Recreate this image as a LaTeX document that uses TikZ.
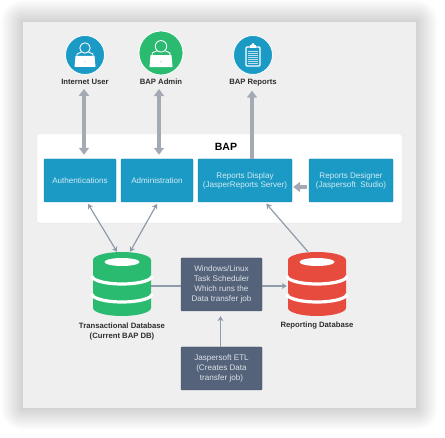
\documentclass[tikz,border=0pt]{standalone}
\usepackage{fontspec}
\setmainfont{Liberation Sans}
\usetikzlibrary{arrows.meta}
\definecolor{PanelGray}{HTML}{EFEFEF}
\definecolor{BoxBlue}{HTML}{1A9AC4}
\definecolor{BoxBlueEdge}{HTML}{1789AE}
\definecolor{BoxText}{HTML}{D3ECF5}
\definecolor{DbGreen}{HTML}{2BBB70}
\definecolor{DbRed}{HTML}{E74B3E}
\definecolor{Slate}{HTML}{54637A}
\definecolor{SlateEdge}{HTML}{465368}
\definecolor{SlateText}{HTML}{DDE1E7}
\definecolor{BigArrow}{HTML}{A4AAB4}
\definecolor{ThinArrow}{HTML}{8F9AAA}
\definecolor{LabelInk}{HTML}{2E2E2E}
\tikzset{
  bluebox/.style={draw=BoxBlueEdge, fill=BoxBlue, rounded corners=1pt, text=BoxText, align=center, font=\fontsize{8.1}{9}\selectfont, minimum height=43pt, inner sep=0pt},
  slatebox/.style={draw=SlateEdge, fill=Slate, rounded corners=1pt, text=SlateText, align=center, font=\fontsize{8.1}{9.8}\selectfont, minimum width=81pt, inner sep=0pt},
  caption/.style={text=LabelInk, align=center, font=\fontsize{7.7}{10}\selectfont\bfseries, inner sep=1pt},
  badge/.style={circle, draw=white, line width=0.8pt, inner sep=0pt},
  bigarrow/.style={draw=BigArrow, line width=3.4pt, -{Triangle[length=7pt,width=10pt]}},
  bigtwoway/.style={bigarrow, {Triangle[length=7pt,width=10pt]}-{Triangle[length=7pt,width=10pt]}},
  thinarrow/.style={draw=ThinArrow, line width=1.2pt, -{Stealth[length=5pt,width=6pt]}},
  thintwoway/.style={thinarrow, {Stealth[length=5pt,width=6pt]}-{Stealth[length=5pt,width=6pt]}},
  usericon/.pic={
    \draw[white, line width=0.9pt] (0,-7) circle (5.2);
    \draw[white, line width=0.9pt] (-8,1) -- (-8,-1) .. controls (-6,-2.5) .. (-3.5,-3);
    \draw[white, line width=0.9pt] (8,1) -- (8,-1) .. controls (6,-2.5) .. (3.5,-3);
    \fill[white] (-9.5,1) -- (9.5,1) -- (10.5,12) -- (-10.5,12) -- cycle;
    \fill[BigArrow] (0,7) circle (0.6);
  },
  clipicon/.pic={
    \draw[white, line width=1.1pt, rounded corners=1pt] (-7,-8) rectangle (7,11);
    \fill[white] (-3,-10) rectangle (3,-6.5);
    \fill[white] (0,-10.5) circle (1.6);
    \foreach \rowy in {-4,-2,...,9} {
      \fill[white!70!BoxBlue] (-5,\rowy) rectangle (5,\rowy+1.1);
    }
  },
  dbstack/.pic={
    \fill[pic actions] (-29,-24) arc[start angle=180, end angle=360, x radius=29, y radius=8]
      -- (29,24) arc[start angle=0, end angle=180, x radius=29, y radius=8] -- cycle;
    \fill[white] (0,-22) ellipse (17.5 and 4);
    \draw[white, line width=3.2pt] (-30,-8) arc[start angle=180, end angle=0, x radius=30, y radius=8];
    \draw[white, line width=3.2pt] (-30,10) arc[start angle=180, end angle=0, x radius=30, y radius=8];
  }
}
\begin{document}
\begin{tikzpicture}[x=1pt, y=-1pt]
    \useasboundingbox (0,0) rectangle (445,438);
    % Soft shadow
    \foreach \spread in {22,21,...,0} {
        \fill[black, opacity=0.006, rounded corners=\spread pt] (23-\spread,22-\spread) rectangle (416+\spread,408+\spread);
    }
    \fill[PanelGray] (23,22) rectangle (416,408);
    \node[draw=black!10, fill=white, rounded corners=1.5pt, minimum width=365pt, minimum height=89pt, inner sep=0pt] (bapPanel) at (219.5,178.5) {};
    \node[font=\fontsize{10.5}{12}\selectfont\bfseries, inner sep=0pt] (bapTitle) at (226,147) {BAP};

    % Badges
    \node[badge, fill=BoxBlue, minimum size=39pt] (userBadge) at (85,55) {};
    \node[badge, fill=DbGreen, minimum size=44pt] (adminBadge) at (161,53) {};
    \node[badge, fill=BoxBlue, minimum size=39pt] (reportBadge) at (253,55) {};
    \pic at (85,55) {usericon};
    \pic[scale=1.1] at (161,54) {usericon};
    \pic at (253,55) {clipicon};
    \node[caption] (userLabel) at (85,82) {Internet User};
    \node[caption] (adminLabel) at (161,82) {BAP Admin};
    \node[caption] (reportLabel) at (253,83) {BAP Reports};

    % Boxes
    \node[bluebox, minimum width=72pt] (auth) at (80,180.5) {Authentications};
    \node[bluebox, minimum width=72pt] (admin) at (157,180.5) {Administration};
    \node[bluebox, minimum width=94pt] (display) at (245,180.5) {Reports Display\\(JasperReports Server)};
    \node[bluebox, minimum width=84pt] (designer) at (351,180.5) {Reports Designer\\(Jaspersoft~~Studio)};
    \node[slatebox, minimum height=53pt] (scheduler) at (221.5,284.5) {Windows/Linux\\Task Scheduler\\Which runs the\\Data transfer job};
    \node[slatebox, minimum height=43pt] (etl) at (221.5,368.5) {Jaspersoft ETL\\(Creates Data\\transfer job)};

    % Databases
    \pic[fill=DbGreen] at (122,284) {dbstack};
    \pic[fill=DbRed] at (317,284) {dbstack};
    \node[minimum width=58pt, minimum height=64pt, inner sep=0pt] (transDb) at (122,284) {};
    \node[minimum width=60pt, minimum height=64pt, inner sep=0pt] (reportDb) at (317,284) {};
    \node[caption] (transLabel) at (122,332) {Transactional Database\\(Current BAP DB)};
    \node[caption] (reportDbLabel) at (317,326) {Reporting Database};

    % Connectors
    \draw[bigtwoway, shorten <=3pt, shorten >=4pt] ([xshift=-1pt]userLabel.south) -- ([xshift=4pt]auth.north);
    \draw[bigtwoway, shorten <=3pt, shorten >=4pt] ([xshift=-2pt]adminLabel.south) -- ([xshift=2pt]admin.north);
    \draw[bigarrow, shorten >=3pt] ([xshift=7pt]display.north) -- ([xshift=-1pt]reportLabel.south);
    \draw[bigarrow, shorten <=2pt, shorten >=1pt] ([yshift=-6.5pt]designer.west) -- ([yshift=-6.5pt]display.east);
    \draw[thintwoway, shorten <=2pt] ([xshift=7pt]auth.south) -- ([xshift=-5pt]transDb.north);
    \draw[thintwoway, shorten <=2pt] ([xshift=1pt]admin.south) -- ([xshift=8pt]transDb.north);
    \draw[thinarrow, shorten >=2pt] ([xshift=-9pt]reportDb.north) -- ([xshift=20pt]display.south);
    \draw[draw=ThinArrow, line width=1.2pt] ([yshift=-2pt]transDb.east) -- ([yshift=-1.5pt]scheduler.west);
    \draw[thinarrow] ([yshift=-1.5pt]scheduler.east) -- ([yshift=-2pt]reportDb.west);
    \draw[thinarrow, shorten >=5pt] ([xshift=-1pt]etl.north) -- ([xshift=-1pt]scheduler.south);
\end{tikzpicture}
\end{document}
